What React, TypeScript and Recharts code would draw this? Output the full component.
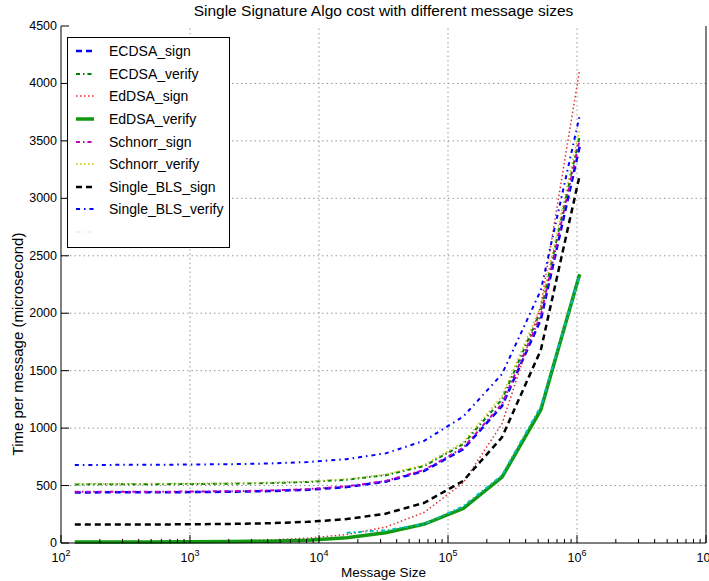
import { LineChart, Line, XAxis, YAxis, ReferenceLine, Legend } from 'recharts';

// message sizes in bytes (2^7 .. 2^20)
const sizes = [128, 256, 512, 1024, 2048, 4096, 8192, 16384, 32768, 65536, 131072, 262144, 524288, 1048576];

// time per message (microsecond)
const ecdsaSign = [440, 441, 441, 443, 446, 452, 463, 487, 534, 628, 816, 1192, 1945, 3450];
const ecdsaVerify = [510, 511, 512, 513, 516, 521, 531, 551, 590, 670, 860, 1250, 2020, 3540];
const eddsaSign = [10, 11, 12, 14, 18, 26, 42, 74, 138, 267, 524, 1038, 2065, 4120];
const eddsaVerify = [8, 8, 9, 10, 12, 16, 25, 45, 90, 165, 300, 574, 1160, 2340];
const schnorrSign = [445, 445, 446, 448, 451, 457, 469, 493, 540, 636, 828, 1210, 1980, 3510];
const schnorrVerify = [515, 516, 517, 518, 521, 526, 536, 556, 596, 680, 875, 1280, 2060, 3600];
const blsSign = [160, 161, 161, 163, 166, 172, 184, 208, 255, 350, 540, 920, 1680, 3200];
const blsVerify = [680, 680, 681, 683, 686, 692, 705, 730, 780, 890, 1100, 1470, 2200, 3720];
const unlabeled = [null, null, null, null, null, null, null, 90, 110, 165, 320, 590, 1190, 2330];

const xMajorTicks = [1e2, 1e3, 1e4, 1e5, 1e6, 1e7];
const xMinorTicks = xMajorTicks.slice(0, -1).flatMap((d) => [2, 3, 4, 5, 6, 7, 8, 9].map((m) => m * d));
const xTicks = [...xMajorTicks, ...xMinorTicks];
const yTicks = [0, 500, 1000, 1500, 2000, 2500, 3000, 3500, 4000, 4500];

const series = [
  { key: 'ecdsaSign', name: 'ECDSA_sign', values: ecdsaSign, color: '#0000ff', dash: '6 4', width: 2.5 },
  { key: 'ecdsaVerify', name: 'ECDSA_verify', values: ecdsaVerify, color: '#008000', dash: '4 3 1.5 3', width: 2 },
  { key: 'eddsaSign', name: 'EdDSA_sign', values: eddsaSign, color: '#e03030', dash: '1.5 2.5', width: 1.5 },
  { key: 'eddsaVerify', name: 'EdDSA_verify', values: eddsaVerify, color: '#119911', dash: undefined, width: 3.5 },
  { key: 'schnorrSign', name: 'Schnorr_sign', values: schnorrSign, color: '#bf00bf', dash: '4 3 1.5 3', width: 2 },
  { key: 'schnorrVerify', name: 'Schnorr_verify', values: schnorrVerify, color: '#bfbf00', dash: '1.5 2.5', width: 1.5 },
  { key: 'blsSign', name: 'Single_BLS_sign', values: blsSign, color: '#000000', dash: '6 4', width: 2.5 },
  { key: 'blsVerify', name: 'Single_BLS_verify', values: blsVerify, color: '#0000ff', dash: '4 4 1.5 4', width: 2 },
  { key: 'unlabeled', name: '', values: unlabeled, color: '#00bfbf', dash: '4 3 1.5 3', width: 2 },
];

const data = sizes.map((size, i) => {
  const row: Record<string, number | null> = { size };
  series.forEach((s) => {
    row[s.key] = s.values[i];
  });
  return row;
});

const font = '"Liberation Sans", Arial, sans-serif';
const isMajor = (v: number) => Math.abs(Math.log10(v) - Math.round(Math.log10(v))) < 1e-9;

const BottomTick = (props: any) => {
  const { x, y, payload } = props;
  const v = payload.value;
  const major = isMajor(v);
  return (
    <g>
      <line x1={x} x2={x} y1={y} y2={y - (major ? 8 : 4)} stroke="#000" strokeWidth={1} />
      {major && (
        <text x={x} y={y + 19} textAnchor="middle" fontFamily={font} fontSize={12.5} fill="#000">
          10<tspan dy={-6} fontSize={9}>{Math.round(Math.log10(v))}</tspan>
        </text>
      )}
    </g>
  );
};

const TopTick = (props: any) => {
  const { x, y, payload } = props;
  const major = isMajor(payload.value);
  return <line x1={x} x2={x} y1={y} y2={y + (major ? 8 : 4)} stroke="#000" strokeWidth={1} />;
};

const LeftTick = (props: any) => {
  const { x, y, payload } = props;
  return (
    <g>
      <line x1={x} x2={x + 8} y1={y} y2={y} stroke="#000" strokeWidth={1} />
      <text x={x - 4} y={y + 4} textAnchor="end" fontFamily={font} fontSize={12.5} fill="#000">
        {payload.value}
      </text>
    </g>
  );
};

const RightTick = (props: any) => {
  const { x, y } = props;
  return <line x1={x} x2={x - 8} y1={y} y2={y} stroke="#000" strokeWidth={1} />;
};

const LegendBox = () => (
  <div
    style={{
      width: 163,
      height: 211,
      border: '1px solid #000',
      background: '#fff',
      fontFamily: font,
      fontSize: 14,
      paddingTop: 2,
      boxSizing: 'border-box',
    }}
  >
    {series.map((s) => (
      <div key={s.key} style={{ display: 'flex', alignItems: 'center', height: 22.6 }}>
        <svg width={34} height={10} style={{ marginLeft: 7 }}>
          <line
            x1={1}
            x2={19}
            y1={5}
            y2={5}
            stroke={s.name ? s.color : '#eef4f0'}
            strokeWidth={s.width}
            strokeDasharray={s.dash}
          />
        </svg>
        <span>{s.name}</span>
      </div>
    ))}
  </div>
);

export default function App() {
  return (
    <div style={{ position: 'relative', width: 709, height: 581, background: '#fff' }}>
      <style>{'body{margin:0}'}</style>
      <div
        style={{
          position: 'absolute',
          left: 61,
          width: 645,
          top: 2,
          textAlign: 'center',
          fontFamily: font,
          fontSize: 15.5,
        }}
      >
        Single Signature Algo cost with different message sizes
      </div>
      <div
        style={{
          position: 'absolute',
          left: 17,
          top: 344,
          transform: 'translate(-50%, -50%) rotate(-90deg)',
          whiteSpace: 'nowrap',
          fontFamily: font,
          fontSize: 15,
        }}
      >
        Time per message (microsecond)
      </div>
      <div
        style={{
          position: 'absolute',
          left: 61,
          width: 645,
          top: 565,
          textAlign: 'center',
          fontFamily: font,
          fontSize: 13.5,
        }}
      >
        Message Size
      </div>
      <LineChart width={709} height={581} data={data} margin={{ top: 26, right: 2, bottom: 0, left: 0 }}>
        <XAxis
          xAxisId="b"
          dataKey="size"
          type="number"
          scale="log"
          domain={[100, 1e7]}
          allowDataOverflow
          ticks={xTicks}
          interval={0}
          tickSize={0}
          tickMargin={0}
          tickLine={false}
          tick={<BottomTick />}
          axisLine={{ stroke: '#000' }}
          height={38}
        />
        <XAxis
          xAxisId="t"
          orientation="top"
          dataKey="size"
          type="number"
          scale="log"
          domain={[100, 1e7]}
          allowDataOverflow
          ticks={xTicks}
          interval={0}
          tickSize={0}
          tickMargin={0}
          tickLine={false}
          tick={<TopTick />}
          axisLine={{ stroke: '#000' }}
          height={0}
        />
        <YAxis
          yAxisId="l"
          type="number"
          domain={[0, 4500]}
          ticks={yTicks}
          interval={0}
          tickSize={0}
          tickMargin={0}
          tickLine={false}
          tick={<LeftTick />}
          axisLine={{ stroke: '#000' }}
          width={61}
        />
        <YAxis
          yAxisId="r"
          orientation="right"
          type="number"
          domain={[0, 4500]}
          ticks={yTicks}
          interval={0}
          tickSize={0}
          tickMargin={0}
          tickLine={false}
          tick={<RightTick />}
          axisLine={{ stroke: '#000' }}
          width={1}
        />
        {xMajorTicks.slice(1, -1).map((v) => (
          <ReferenceLine key={'gx' + v} xAxisId="b" yAxisId="l" x={v} stroke="#999" strokeDasharray="1.5 3" />
        ))}
        {yTicks.slice(1, -1).map((v) => (
          <ReferenceLine key={'gy' + v} xAxisId="b" yAxisId="l" y={v} stroke="#999" strokeDasharray="1.5 3" />
        ))}
        {series.map((s) => (
          <Line
            key={s.key}
            xAxisId="b"
            yAxisId="l"
            type="linear"
            dataKey={s.key}
            name={s.name}
            stroke={s.color}
            strokeWidth={s.width}
            strokeDasharray={s.dash}
            dot={false}
            activeDot={false}
            connectNulls={false}
            isAnimationActive={false}
          />
        ))}
        <Legend
          layout="vertical"
          align="center"
          verticalAlign="middle"
          content={() => <LegendBox />}
          wrapperStyle={{ position: 'absolute', left: 67, top: 37, width: 163 }}
        />
      </LineChart>
    </div>
  );
}
